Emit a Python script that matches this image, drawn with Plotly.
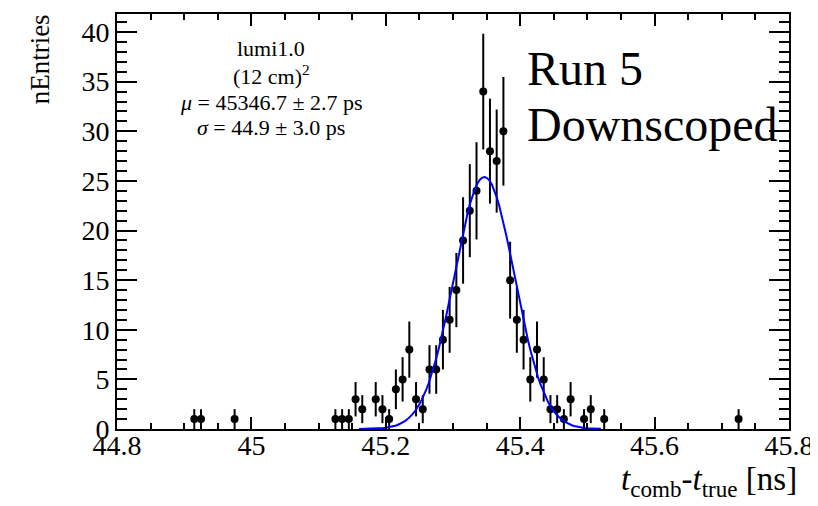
import numpy as np
import plotly.graph_objects as go

# ---------------- data ----------------
bin_centers = [44.915, 44.925, 44.975,
               45.125, 45.135, 45.145, 45.155, 45.165, 45.185, 45.195, 45.205,
               45.215, 45.225, 45.235, 45.245, 45.255, 45.265, 45.275, 45.285,
               45.295, 45.305, 45.315, 45.325, 45.335, 45.345, 45.355, 45.365,
               45.375, 45.385, 45.395, 45.405, 45.415, 45.425, 45.435, 45.445,
               45.455, 45.465, 45.475, 45.495, 45.505, 45.525,
               45.725]
counts = [1, 1, 1,
          1, 1, 1, 3, 2, 3, 2, 1,
          4, 5, 8, 3, 2, 6, 6, 9,
          11, 14, 19, 22, 24, 34, 28, 27,
          30, 15, 11, 9, 5, 8, 5, 2,
          2, 1, 3, 1, 2, 1,
          1]

fit_mu_ns = 45.3467
fit_sigma_ns = 0.0449
fit_amplitude = 25.4
fit_range = [45.16, 45.52]

x_tickvals = [44.8, 45.0, 45.2, 45.4, 45.6, 45.8]
x_ticktext = ["44.8", "45", "45.2", "45.4", "45.6", "45.8"]
y_tickvals = [0, 5, 10, 15, 20, 25, 30, 35, 40]
y_ticktext = ["0", "5", "10", "15", "20", "25", "30", "35", "40"]

info_lines = ["lumi1.0", "(12 cm)<sup>2</sup>",
              "<i>μ</i> = 45346.7 ± 2.7 ps", "<i>σ</i> = 44.9 ± 3.0 ps"]

# ---------------- figure ----------------
# page is 818x506; the html body has an 8 px margin, so the figure is placed
# at (8, 8) and sized to fill the rest of the window.
OFF = 8
W, H = 818 - OFF, 506 - OFF
# plot area in page pixels
X0, X1, Y0, Y1 = 117, 792, 12, 429
L, R, T, B = X0 - OFF, (818 - X1), Y0 - OFF, (506 - Y1)
PW, PH = X1 - X0, Y1 - Y0
FONT = "Liberation Serif, Times New Roman, serif"


def px(x):
    return (x - X0) / PW


def py(y):
    return (Y1 - y) / PH


errors = np.sqrt(np.array(counts, dtype=float))
fx = np.linspace(fit_range[0], fit_range[1], 101)
fy = fit_amplitude * np.exp(-0.5 * ((fx - fit_mu_ns) / fit_sigma_ns) ** 2)

fig = go.Figure()
fig.add_trace(go.Scatter(
    x=bin_centers, y=counts, mode="markers",
    marker=dict(color="black", size=8),
    error_y=dict(type="data", array=errors, visible=True, color="black",
                 thickness=2, width=0),
    showlegend=False, hoverinfo="x+y"))
fig.add_trace(go.Scatter(
    x=fx, y=fy, mode="lines", line=dict(color="#0000ff", width=2),
    showlegend=False))

axis_common = dict(showline=True, linecolor="black", linewidth=2, mirror="allticks",
                   ticks="inside", tickcolor="black", tickwidth=1.5,
                   showgrid=False, zeroline=False,
                   tickfont=dict(family=FONT, size=28, color="black"))

fig.update_xaxes(range=[44.8, 45.8], tickvals=x_tickvals, ticktext=x_ticktext,
                 ticklen=12, ticklabeloverflow="allow", ticklabelstandoff=-10,
                 minor=dict(dtick=0.05, tick0=44.8, ticklen=6, ticks="inside",
                            tickcolor="black", tickwidth=1.5, showgrid=False),
                 **axis_common)
fig.update_yaxes(range=[0, 41.82], tickvals=y_tickvals, ticktext=y_ticktext,
                 ticklen=20,
                 minor=dict(dtick=1, tick0=0, ticklen=10, ticks="inside",
                            tickcolor="black", tickwidth=1.5, showgrid=False),
                 **axis_common)

ann = []
# y title
ann.append(dict(text="nEntries", textangle=-90, xref="paper", yref="paper",
                x=px(40), y=py(10), xanchor="center", yanchor="top", showarrow=False,
                font=dict(family=FONT, size=27, color="black")))
# x title
ann.append(dict(text="<i>t</i><sub>comb</sub>-<i>t</i><sub>true</sub> [ns]",
                xref="paper", yref="paper", x=px(802), y=py(482),
                xanchor="right", yanchor="middle", showarrow=False,
                font=dict(family=FONT, size=33, color="black")))
# Run 5 / Downscoped
ann.append(dict(text="Run 5", xref="paper", yref="paper", x=px(527), y=py(67),
                xanchor="left", yanchor="middle", showarrow=False,
                font=dict(family=FONT, size=48, color="black")))
ann.append(dict(text="Downscoped", xref="paper", yref="paper", x=px(527), y=py(123),
                xanchor="left", yanchor="middle", showarrow=False,
                font=dict(family=FONT, size=48, color="black")))
# info box
for line, yc in zip(info_lines, [47, 73, 101, 126]):
    ann.append(dict(text=line, xref="paper", yref="paper", x=px(272), y=py(yc),
                    xanchor="center", yanchor="middle", showarrow=False,
                    font=dict(family=FONT, size=22, color="black")))

fig.update_layout(width=W, height=H, margin=dict(l=L, r=R, t=T, b=B, pad=0),
                  paper_bgcolor="white", plot_bgcolor="white",
                  font=dict(family=FONT, color="black"),
                  annotations=ann, showlegend=False)

fig.write_html("out.html")
